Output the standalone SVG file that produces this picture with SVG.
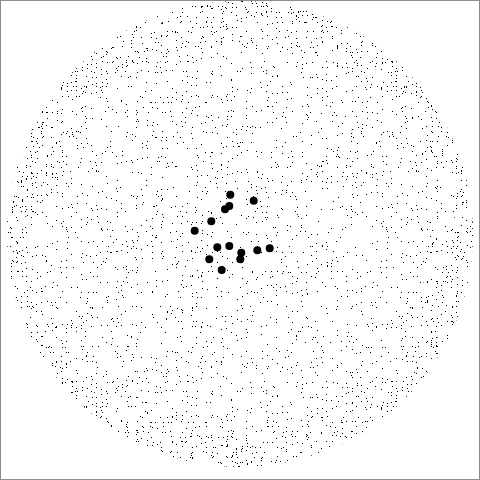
<svg xmlns="http://www.w3.org/2000/svg" width="480" height="480" viewBox="0 0 480 480">
<style>
.pt{fill:#000}
.frame{fill:#fff;stroke:#8c8c8c;stroke-width:1}
</style>
<defs>
<filter id="s1" filterUnits="userSpaceOnUse" x="0" y="0" width="480" height="480" color-interpolation-filters="sRGB">
<feTurbulence type="fractalNoise" baseFrequency="0.8" numOctaves="1" seed="7"/>
<feColorMatrix type="matrix" values="0 0 0 0 0  0 0 0 0 0  0 0 0 0 0  5 0 0 0 -3.05"/>
<feComponentTransfer><feFuncA type="discrete" tableValues="0 1"/></feComponentTransfer>
</filter>
<filter id="s2" filterUnits="userSpaceOnUse" x="0" y="0" width="480" height="480" color-interpolation-filters="sRGB">
<feTurbulence type="fractalNoise" baseFrequency="0.8" numOctaves="1" seed="19"/>
<feColorMatrix type="matrix" values="0 0 0 0 0  0 0 0 0 0  0 0 0 0 0  5 0 0 0 -3.15"/>
<feComponentTransfer><feFuncA type="discrete" tableValues="0 1"/></feComponentTransfer>
</filter>
<filter id="s3" filterUnits="userSpaceOnUse" x="0" y="0" width="480" height="480" color-interpolation-filters="sRGB">
<feTurbulence type="fractalNoise" baseFrequency="0.8" numOctaves="1" seed="31"/>
<feColorMatrix type="matrix" values="0 0 0 0 0  0 0 0 0 0  0 0 0 0 0  5 0 0 0 -3.15"/>
<feComponentTransfer><feFuncA type="discrete" tableValues="0 1"/></feComponentTransfer>
</filter>
<filter id="s4" filterUnits="userSpaceOnUse" x="0" y="0" width="480" height="480" color-interpolation-filters="sRGB">
<feTurbulence type="fractalNoise" baseFrequency="0.8" numOctaves="1" seed="43"/>
<feColorMatrix type="matrix" values="0 0 0 0 0  0 0 0 0 0  0 0 0 0 0  5 0 0 0 -3.2"/>
<feComponentTransfer><feFuncA type="discrete" tableValues="0 1"/></feComponentTransfer>
</filter>
<clipPath id="c1"><circle cx="240" cy="234" r="233"/></clipPath>
<clipPath id="c2"><path clip-rule="evenodd" d="M7,234a233,233 0 1,0 466,0a233,233 0 1,0 -466,0ZM50,234a190,190 0 1,0 380,0a190,190 0 1,0 -380,0Z"/></clipPath>
<clipPath id="c3"><path clip-rule="evenodd" d="M7,234a233,233 0 1,0 466,0a233,233 0 1,0 -466,0ZM25,234a215,215 0 1,0 430,0a215,215 0 1,0 -430,0Z"/></clipPath>
<clipPath id="c4"><path clip-rule="evenodd" d="M7,234a233,233 0 1,0 466,0a233,233 0 1,0 -466,0ZM17,234a223,223 0 1,0 446,0a223,223 0 1,0 -446,0Z"/></clipPath>
</defs>
<rect class="frame" x="0.5" y="0.5" width="479" height="479"/>
<g id="cloud">
<rect x="0" y="0" width="480" height="480" filter="url(#s1)" clip-path="url(#c1)"/>
<rect x="0" y="0" width="480" height="480" filter="url(#s2)" clip-path="url(#c2)"/>
<rect x="0" y="0" width="480" height="480" filter="url(#s3)" clip-path="url(#c3)"/>
<rect x="0" y="0" width="480" height="480" filter="url(#s4)" clip-path="url(#c4)"/>
</g>
<g id="centers">
<circle class="pt" cx="230.3" cy="194.7" r="4"/>
<circle class="pt" cx="253.7" cy="200.7" r="4"/>
<circle class="pt" cx="229.3" cy="206" r="4"/>
<circle class="pt" cx="225" cy="209.3" r="4"/>
<circle class="pt" cx="211.3" cy="221.3" r="4"/>
<circle class="pt" cx="194.7" cy="230.7" r="4"/>
<circle class="pt" cx="217.3" cy="247.3" r="4"/>
<circle class="pt" cx="229.3" cy="246" r="4"/>
<circle class="pt" cx="241.3" cy="252.7" r="4"/>
<circle class="pt" cx="240.3" cy="259.3" r="4"/>
<circle class="pt" cx="257.3" cy="250.3" r="4"/>
<circle class="pt" cx="269.7" cy="248.3" r="4"/>
<circle class="pt" cx="209.3" cy="259.3" r="4"/>
<circle class="pt" cx="221.7" cy="270" r="4"/>
</g>
</svg>
